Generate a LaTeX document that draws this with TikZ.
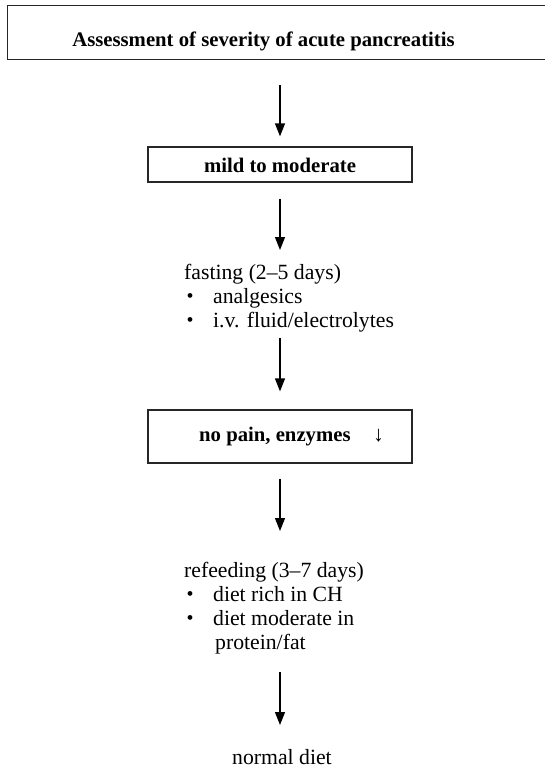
\documentclass[tikz,border=0pt]{standalone}
\usepackage{fontspec}
\setmainfont{Liberation Serif}
\usetikzlibrary{arrows.meta}
\begin{document}
\begin{tikzpicture}[x=1bp,y=-1bp,
  frame/.style={draw=black!85, line width=1.3bp, inner sep=0pt},
  body/.style={font=\fontsize{21.8}{24}\selectfont, inner sep=0pt, anchor=base west},
  head/.style={font=\fontsize{20.8}{24}\selectfont\bfseries, inner sep=0pt, anchor=base},
  dot/.style={font=\fontsize{20}{20}\selectfont, inner sep=0pt, anchor=center},
  arr/.style={line width=1.3bp, -{Triangle[width=10bp,length=13bp]}}
]
\useasboundingbox (0,0) rectangle (545,771);
\fill[white] (0,0) rectangle (545,771);

% boxes
\node[frame, minimum width=560bp, minimum height=54bp, anchor=north west] (titlebox) at (7,5) {};
\node[head] (titletext) at (263.5,47) {Assessment of severity of acute pancreatitis};

\node[frame, minimum width=264bp, minimum height=35bp] (mild) at (280,164.5) {};
\node[head] (mildtext) at (280,172) {mild to moderate};

\node[frame, minimum width=264bp, minimum height=53bp] (nopain) at (280,436.5) {};
\node[head, anchor=base west] (nopaintext) at (199,441) {no pain, enzymes};
\node[body] (down) at (373,441) {↓};

% fasting phase
\node[body] (fast) at (184,279) {fasting (2–5 days)};
\node[dot] (b1) at (190,298) {•};
\node[body] (f1) at (213,303) {analgesics};
\node[dot] (b2) at (190,322) {•};
\node[body] (f2) at (213,327) {i.v. fluid/electrolytes};

% refeeding phase
\node[body] (refeed) at (184,577) {refeeding (3–7 days)};
\node[dot] (b3) at (190,596) {•};
\node[body] (r1) at (213,601) {diet rich in CH};
\node[dot] (b4) at (190,620) {•};
\node[body] (r2) at (213,625) {diet moderate in};
\node[body] (r3) at (215,649) {protein/fat};

\node[body, anchor=base] (normal) at (282,764) {normal diet};

% arrow end points next to the text blocks
\coordinate (in2) at (280,250);
\coordinate (out2) at (280,338);
\coordinate (in4) at (280,531);
\coordinate (out4) at (280,672);
\coordinate (in5) at (280,725);

\draw[arr, shorten <=25bp, shorten >=10bp] (titlebox.south -| mild.north) -- (mild.north);
\draw[arr, shorten <=16bp] (mild.south) -- (in2);
\draw[arr, shorten >=18bp] (out2) -- (nopain.north);
\draw[arr, shorten <=15bp] (nopain.south) -- (in4);
\draw[arr] (out4) -- (in5);
\end{tikzpicture}
\end{document}
